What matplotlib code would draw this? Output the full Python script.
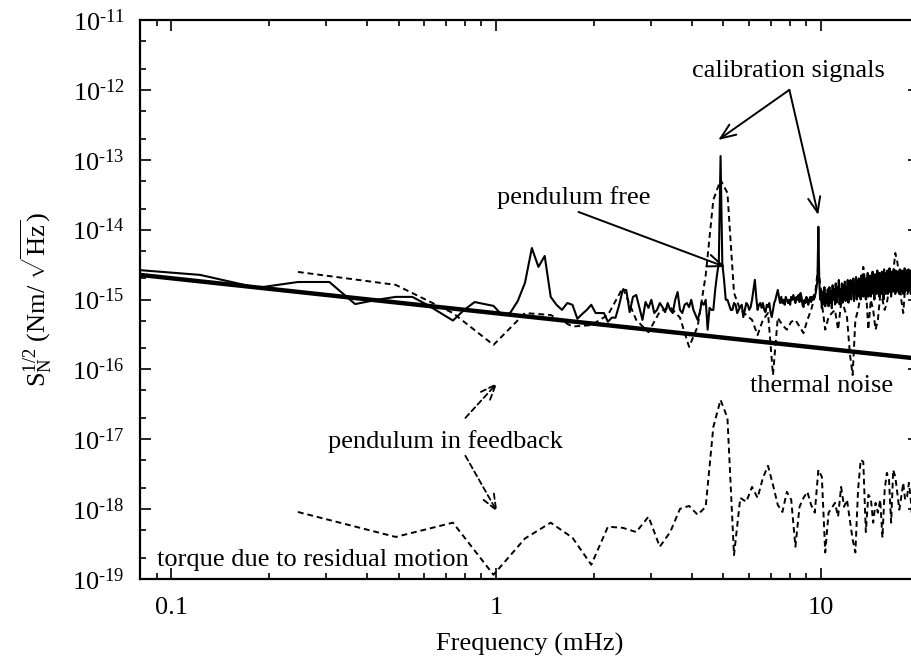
import numpy as np
import matplotlib
matplotlib.use("Agg")
import matplotlib.pyplot as plt
from matplotlib.ticker import FixedLocator, LogLocator, NullFormatter

plt.rcParams['font.family'] = 'serif'
plt.rcParams['font.serif'] = ['Liberation Serif', 'DejaVu Serif']
plt.rcParams['mathtext.fontset'] = 'custom'
plt.rcParams['mathtext.rm'] = 'Liberation Serif'
plt.rcParams['mathtext.it'] = 'Liberation Serif:italic'
plt.rcParams['font.size'] = 19

# bin widths of the two spectra (mHz)
df_free = 0.06125
df_fb = 0.245

# pendulum free, units of 1e-15 N m/sqrt(Hz)
free_asd = [
    2.9, 2.25, 1.47, 1.78, 1.78, 0.86, 0.99, 1.09, 1.09, 0.84,
    0.64, 0.50, 0.71, 0.92, 0.86, 0.81, 0.60, 0.64, 0.95, 1.73,
    5.45, 2.93, 4.2, 1.09, 0.84, 0.71, 0.89, 0.84, 0.53, 0.62,
    0.71, 0.84, 0.64, 0.64, 0.64, 0.48, 0.55, 0.55, 0.84, 1.37,
    1.37, 0.66, 1.09, 1.16, 0.76, 0.51, 0.92, 0.76, 0.99, 0.64,
    0.71, 0.89, 0.78, 0.66, 0.89, 0.71, 0.64, 0.99, 1.28, 0.71,
    0.64, 0.84, 0.89, 0.78, 0.99, 0.71, 0.60, 0.51, 0.64, 0.92,
    0.84, 0.99, 0.37, 0.76, 0.71, 0.71, 1.37, 2.25, 3.3, 113,
    3.3, 1.91, 0.99, 0.99, 0.84, 0.71, 0.71, 0.89, 0.84, 0.64,
    0.71, 0.78, 0.84, 0.56, 0.71, 0.89, 0.84, 0.71, 0.78, 0.99,
    1.37, 1.91, 1.09, 0.71, 0.84, 0.89, 0.76, 0.89, 0.71, 0.66,
    0.84, 0.78, 0.89, 0.66, 0.56, 0.71, 0.89, 0.99, 1.16, 1.37,
    1.09, 0.89, 1.09, 0.89, 0.99, 0.84, 1.09, 0.99, 0.89, 0.99,
    0.84, 1.09, 0.99, 1.16, 0.99, 0.89, 1.09, 0.99, 1.16, 0.92,
    1.24, 1.09, 0.84, 0.78, 0.99, 0.89, 1.09, 0.99, 0.84, 0.99,
    1.09, 0.92, 1.09, 0.99, 1.16, 1.09, 1.24, 1.51, 1.91, 11.0,
    1.9, 1.0, 1.4, 0.75, 1.3, 0.85, 1.5, 0.8, 1.2, 0.9,
    1.4, 0.8, 1.5, 0.9, 1.3, 0.75, 1.6, 1.0, 1.4, 0.85,
    1.7, 0.9, 1.5, 1.1, 1.9, 0.85, 1.4, 1.0, 1.7, 0.9,
    1.6, 1.0, 1.8, 0.95, 1.5, 1.2, 1.9, 0.9, 1.6, 1.1,
    1.9, 1.0, 1.7, 1.2, 2.0, 0.95, 1.6, 1.3, 2.1, 1.0,
    1.8, 1.1, 2.0, 1.2, 1.7, 1.0, 2.2, 1.3, 1.9, 1.1,
    2.3, 1.2, 1.8, 1.0, 2.0, 1.4, 2.4, 1.1, 1.9, 1.3,
    2.2, 1.1, 2.0, 1.4, 2.5, 1.2, 1.9, 1.0, 2.3, 1.3,
    2.1, 1.2, 2.6, 1.3, 2.0, 1.1, 2.4, 1.4, 2.2, 1.2,
    2.5, 1.3, 2.1, 1.0, 2.7, 1.4, 2.2, 1.2, 2.4, 1.3,
    2.6, 1.2, 2.0, 1.5, 2.8, 1.3, 2.3, 1.1, 2.5, 1.4,
    2.2, 1.3, 2.7, 1.5, 2.1, 1.2, 2.6, 1.4, 2.3, 1.3,
    2.5, 1.5, 2.2, 1.2, 2.7, 1.4, 2.4, 1.3, 2.6, 1.5,
    2.3, 1.2, 2.5, 1.6, 2.8, 1.3, 2.2, 1.4, 2.6, 1.5,
    2.4, 1.3, 2.7, 1.5, 2.2, 1.4, 2.6, 1.2, 2.5, 1.6,
    2.3, 1.4, 2.8, 1.5, 2.4, 1.3, 2.6, 1.5, 2.3, 1.6,
]

# pendulum in feedback, units of 1e-15 N m/sqrt(Hz)
feedback_asd = [
    2.48, 1.62, 0.64, 0.224, 0.64, 0.60, 0.41, 0.43, 0.60, 1.47,
    0.51, 0.34, 0.67, 0.78, 0.55, 0.21, 0.41, 2.23, 26.6, 51.5,
    33.5, 1.24, 0.71, 0.60, 0.51, 0.31, 0.51, 0.64, 0.083, 0.55,
    0.43, 0.37, 0.48, 0.51, 0.41, 0.33, 0.51, 0.71, 1.09, 3.13,
    0.89, 0.37, 0.56, 0.64, 0.71, 0.37, 0.89, 0.76, 0.56, 0.17,
    0.083, 0.51, 0.71, 1.16, 2.93, 1.51, 0.37, 0.99, 0.71, 0.37,
    0.51, 1.16, 0.99, 0.71, 0.89, 1.37, 1.16, 2.40, 4.63, 3.45,
    2.10, 0.99, 0.64, 1.51, 1.16, 1.37, 1.24, 1.62, 1.37, 1.47,
    1.30,
]

# torque due to residual motion, units of 1e-18 N m/sqrt(Hz)
residual_asd = [
    0.91, 0.40, 0.64, 0.115, 0.38, 0.64, 0.39, 0.16, 0.56, 0.54,
    0.47, 0.78, 0.29, 0.47, 1.01, 1.11, 0.83, 1.08, 15.0, 36.6,
    20.2, 0.22, 1.45, 1.27, 2.08, 1.45, 2.80, 4.17, 2.22, 1.15,
    0.91, 1.77, 1.36, 0.29, 1.08, 1.45, 1.77, 1.15, 0.89, 3.65,
    2.90, 0.24, 0.89, 1.04, 1.23, 0.78, 2.08, 1.08, 1.36, 0.70,
    0.37, 0.24, 1.89, 5.08, 4.75, 0.47, 1.60, 1.45, 0.64, 1.23,
    0.89, 1.36, 0.39, 1.89, 3.31, 2.63, 0.64, 3.65, 2.90, 1.71,
    0.98, 1.50, 2.38, 1.36, 1.50, 2.38, 1.36, 0.64, 1.15, 1.60,
    1.36,
]

thermal_freq = [0.08, 20]
thermal_asd = [2.25e-15, 1.42e-16]

f_free = df_free * np.arange(1, len(free_asd) + 1)
f_fb = df_fb * np.arange(1, len(feedback_asd) + 1)

fig = plt.figure(figsize=(9.12, 6.66), dpi=100)
ax = fig.add_axes([140 / 912, 87 / 666, 779 / 912, 559 / 666])

ax.plot(f_free, np.array(free_asd) * 1e-15, color='black', lw=1.5)
ax.plot(f_fb, np.array(feedback_asd) * 1e-15, color='black', lw=1.4,
        dashes=(3, 2))
ax.plot(f_fb, np.array(residual_asd) * 1e-18, color='black', lw=1.4,
        dashes=(3, 2))
ax.plot(thermal_freq, thermal_asd, color='black', lw=3.2)

ax.set_xscale('log')
ax.set_yscale('log')
ax.set_xlim(0.08, 20)
ax.set_ylim(1e-19, 1e-11)

ax.xaxis.set_major_locator(FixedLocator([0.1, 1, 10]))
ax.set_xticklabels(['0.1', '1', '10'])
ax.xaxis.set_minor_locator(LogLocator(base=10, subs=np.arange(2, 10)))
ax.xaxis.set_minor_formatter(NullFormatter())

ydec = list(range(-19, -10))
ax.yaxis.set_major_locator(FixedLocator([10.0 ** d for d in ydec]))
ax.set_yticklabels([r'$\mathregular{10^{\text{-}%d}}$' % abs(d) for d in ydec])
ax.yaxis.set_minor_locator(LogLocator(base=10, subs=(2, 5)))
ax.yaxis.set_minor_formatter(NullFormatter())

ax.tick_params(which='both', direction='in', top=True, right=True, width=1.2)
ax.tick_params(which='major', length=8)
ax.tick_params(which='minor', length=4)
ax.tick_params(axis='x', pad=13)
ax.tick_params(axis='y', pad=11)
for s in ax.spines.values():
    s.set_linewidth(1.6)

ax.set_xlabel('Frequency (mHz)', labelpad=10)
ax.set_ylabel(r'$\mathregular{S_N^{1/2}}$ (Nm/ $\sqrt{\mathregular{Hz}}$)', labelpad=13)

solid_arrow = dict(arrowstyle='->,head_length=0.55,head_width=0.22',
                   mutation_scale=20, color='black', lw=1.4,
                   shrinkA=0, shrinkB=0)
dash_arrow = dict(arrowstyle='->,head_length=0.55,head_width=0.22',
                  mutation_scale=20, color='black', lw=1.3,
                  linestyle=(0, (3, 2)), shrinkA=0, shrinkB=0)

ax.text(7.92, 1.86e-12, 'calibration signals', ha='center', va='center', zorder=1)
ax.annotate('', xy=(4.82, 1.92e-13), xytext=(7.98, 1.0e-12), arrowprops=solid_arrow)
ax.annotate('', xy=(9.79, 1.62e-14), xytext=(7.98, 1.0e-12), arrowprops=solid_arrow)

ax.text(1.726, 2.84e-14, 'pendulum free', ha='center', va='center', zorder=1)
ax.annotate('', xy=(5.07, 2.92e-15), xytext=(1.79, 1.79e-14), arrowprops=solid_arrow)

ax.text(10.0, 5.8e-17, 'thermal noise', ha='center', va='center', zorder=1)

ax.text(0.695, 9.2e-18, 'pendulum in feedback', ha='center', va='center', zorder=1)
ax.annotate('', xy=(1.007, 6.4e-17), xytext=(0.803, 2.02e-17), arrowprops=dash_arrow)
ax.annotate('', xy=(1.007, 9.1e-19), xytext=(0.803, 5.8e-18), arrowprops=dash_arrow)

ax.text(0.272, 1.88e-19, 'torque due to residual motion', ha='center', va='center', zorder=1)

fig.savefig('out.png', dpi=100)
